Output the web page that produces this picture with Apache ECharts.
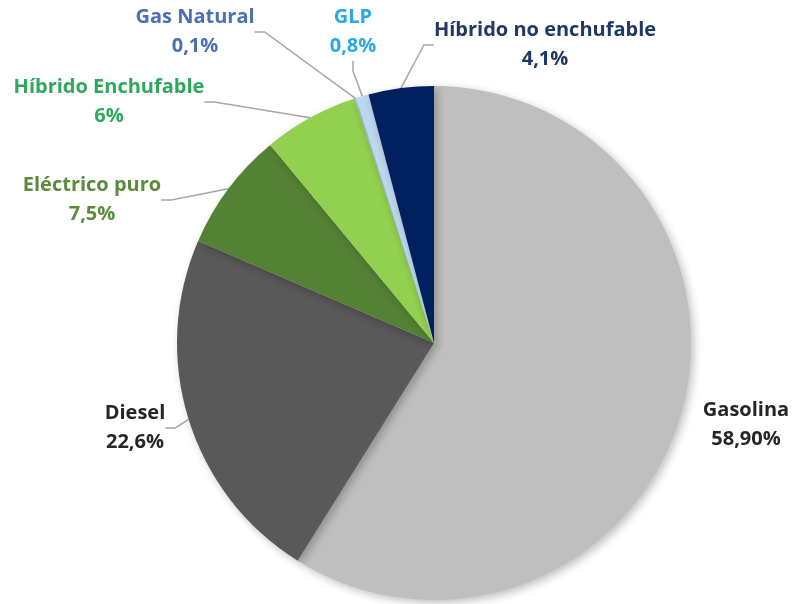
<!DOCTYPE html>
<html>
<head>
<meta charset="utf-8">
<script src="https://cdn.jsdelivr.net/npm/echarts@6/dist/echarts.min.js"></script>
<style>
  html, body { margin: 0; padding: 0; background: #fff; }
  #pie { width: 792px; height: 604px; }
</style>
</head>
<body>
<div id="pie"></div>
<script>
// datos
var categorias = ['Gasolina', 'Diesel', 'Eléctrico puro', 'Híbrido Enchufable', 'Gas Natural', 'GLP', 'Híbrido no enchufable'];
var valores = [58.9, 22.6, 7.5, 6, 0.1, 0.8, 4.1];
var etiquetas = ['58,90%', '22,6%', '7,5%', '6%', '0,1%', '0,8%', '4,1%'];

var colores = ['#bfbfbf', '#595959', '#548235', '#92d050', '#9dc3e6', '#bdd7ee', '#002060'];
var coloresTexto = ['#262626', '#262626', '#5b8a3a', '#2ea85a', '#4a6fb5', '#29a9e1', '#1f3864'];
// posicion de las etiquetas (centro del texto)
var posEtiquetas = [[746, 425], [135, 428], [92, 200], [109, 102], [195, 32], [353, 32], [545, 45]];
var conLinea = [false, true, true, true, true, true, true];

var myChart = echarts.init(document.getElementById('pie'));

var datos = [];
for (var i = 0; i < categorias.length; i++) {
    datos.push({
        name: categorias[i],
        value: valores[i],
        itemStyle: { color: colores[i] },
        label: { color: coloresTexto[i] },
        labelLine: { show: conLinea[i] }
    });
}

option = {
    backgroundColor: '#fff',
    animation: false,
    series: [
        {
            type: 'pie',
            center: [434, 343],
            radius: 257,
            startAngle: 90,
            clockwise: true,
            avoidLabelOverlap: false,
            itemStyle: {
                shadowBlur: 8,
                shadowOffsetX: 3,
                shadowOffsetY: 3,
                shadowColor: 'rgba(0,0,0,0.25)'
            },
            label: {
                show: true,
                position: 'outside',
                fontFamily: 'Open Sans',
                fontWeight: 'bold',
                fontSize: 20,
                lineHeight: 29,
                align: 'center',
                formatter: function (p) {
                    return p.name + '\n' + etiquetas[p.dataIndex];
                }
            },
            labelLine: {
                show: true,
                length: 10,
                length2: 10,
                lineStyle: { color: '#a6a6a6', width: 1.5 }
            },
            labelLayout: function (p) {
                var pos = posEtiquetas[p.dataIndex];
                return {
                    x: pos[0],
                    y: pos[1],
                    align: 'center',
                    verticalAlign: 'middle'
                };
            },
            data: datos
        }
    ]
};
if (option && typeof option === "object") {
    myChart.setOption(option, true);
}
</script>
</body>
</html>
